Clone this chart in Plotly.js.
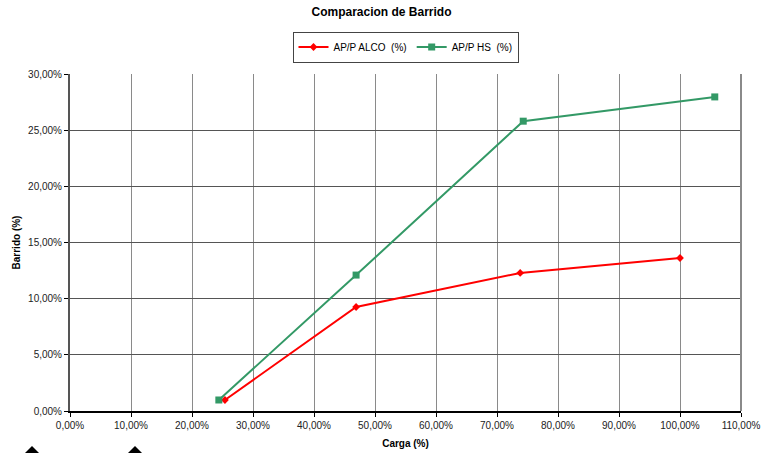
<!DOCTYPE html>
<html>
<head>
<meta charset="utf-8">
<script src="https://cdn.plot.ly/plotly-3.0.1.min.js"></script>
<style>
  html, body { margin: 0; padding: 0; background: #fff; }
  #chart { width: 763px; height: 453px; }
</style>
</head>
<body>
<div id="chart"></div>
<script>
// Carga (%) vs Barrido (%)
const alcoCarga = [25.4, 46.9, 73.8, 100.0];
const alcoBarrido = [0.98, 9.26, 12.29, 13.62];
const hsCarga = [24.4, 46.9, 74.3, 105.7];
const hsBarrido = [0.98, 12.1, 25.8, 27.96];
const seriesNames = ['AP/P ALCO  (%)', 'AP/P HS  (%)'];

const W = 763, H = 453;
const M = { l: 70, r: 22, t: 74, b: 42 };
const PW = W - M.l - M.r, PH = H - M.t - M.b;
const px = x => (x - M.l) / PW;
const py = y => (H - M.b - y) / PH;

function marker(x) {
  return `M ${px(x - 7)} ${py(453)} L ${px(x)} ${py(446)} L ${px(x + 7)} ${py(453)} Z`;
}

const traces = [
  {
    x: alcoCarga, y: alcoBarrido, name: seriesNames[0],
    type: 'scatter', mode: 'lines+markers',
    line: { color: '#ff0000', width: 2 },
    marker: { symbol: 'diamond', size: 6, color: '#ff0000' }
  },
  {
    x: hsCarga, y: hsBarrido, name: seriesNames[1],
    type: 'scatter', mode: 'lines+markers',
    line: { color: '#339966', width: 2 },
    marker: { symbol: 'square', size: 7, color: '#339966' }
  }
];

const axisFont = { family: 'Liberation Sans, Arial, sans-serif', size: 10, color: '#222' };

const layout = {
  width: W, height: H,
  margin: M,
  paper_bgcolor: '#fff', plot_bgcolor: '#fff',
  separators: ',.',
  showlegend: true,
  title: {
    text: '<b>Comparacion de Barrido</b>',
    font: { family: 'Liberation Sans, Arial, sans-serif', size: 12, color: '#000' },
    x: 0.5, xanchor: 'center', y: 0.975, yanchor: 'middle'
  },
  legend: {
    orientation: 'h', x: 0.5, xanchor: 'center', y: py(47), yanchor: 'middle',
    bordercolor: '#444', borderwidth: 1, bgcolor: '#fff',
    font: { family: 'Liberation Sans, Arial, sans-serif', size: 10, color: '#000' },
    itemwidth: 30, tracegroupgap: 0
  },
  xaxis: {
    range: [0, 110], dtick: 10, tick0: 0,
    tickformat: '.2f', ticksuffix: '%',
    showgrid: true, gridcolor: '#8a8a8a', gridwidth: 1,
    showline: true, linecolor: '#000', linewidth: 2, mirror: false,
    ticks: 'outside', ticklen: 4, tickcolor: '#000',
    zeroline: false, tickfont: axisFont,
    title: { text: '<b>Carga (%)</b>', font: { family: 'Liberation Sans, Arial, sans-serif', size: 10, color: '#000' }, standoff: 10 }
  },
  yaxis: {
    range: [0, 30], dtick: 5, tick0: 0,
    tickformat: '.2f', ticksuffix: '%',
    showgrid: true, gridcolor: '#555', gridwidth: 1,
    showline: true, linecolor: '#555', linewidth: 2,
    ticks: 'outside', ticklen: 4, tickcolor: '#000',
    zeroline: false, tickfont: axisFont,
    title: { text: '<b>Barrido (%)</b>', font: { family: 'Liberation Sans, Arial, sans-serif', size: 10, color: '#000' }, standoff: 6 }
  },
  shapes: [
    { type: 'line', xref: 'paper', yref: 'paper', x0: 1, x1: 1, y0: 0, y1: 1, line: { color: '#8a8a8a', width: 2 } },
    { type: 'path', xref: 'paper', yref: 'paper', path: marker(32), fillcolor: '#000', line: { width: 0 } },
    { type: 'path', xref: 'paper', yref: 'paper', path: marker(135), fillcolor: '#000', line: { width: 0 } }
  ]
};

Plotly.newPlot('chart', traces, layout, { displayModeBar: false, staticPlot: true });
</script>
</body>
</html>
